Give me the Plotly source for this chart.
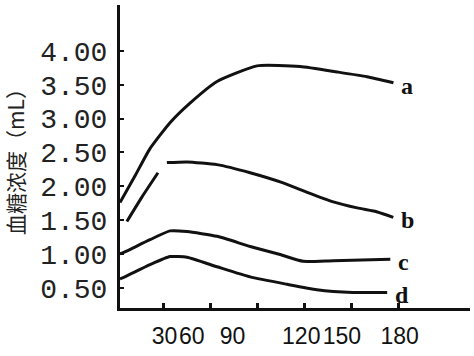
import plotly.graph_objects as go

# ---- data ----
x_a = [2, 12, 21, 34, 46.8, 64.1, 89.7, 117.3, 141, 160, 177]
y_a = [1.76, 2.17, 2.55, 2.94, 3.23, 3.55, 3.78, 3.77, 3.69, 3.62, 3.53]

x_b = [6.4, 16, 26.3, None, 32, 44.9, 64.1, 85.3, 106.4, 121.8, 138.5, 153.8, 166.7, 176.9]
y_b = [1.48, 1.84, 2.20, None, 2.35, 2.36, 2.32, 2.20, 2.05, 1.91, 1.77, 1.68, 1.62, 1.54]

x_c = [2, 5.1, 21.2, 34, 44.9, 64.1, 85.3, 104.5, 119.2, 138.5, 175]
y_c = [1.00, 1.03, 1.21, 1.34, 1.33, 1.26, 1.11, 0.99, 0.89, 0.90, 0.92]

x_d = [2, 5.1, 21.2, 34, 44.9, 64.1, 85.3, 109, 128, 151, 173]
y_d = [0.63, 0.66, 0.84, 0.96, 0.95, 0.81, 0.66, 0.55, 0.47, 0.43, 0.43]

curve_names = ["a", "b", "c", "d"]
x_ticks = [30, 60, 90, 120, 150, 180]
x_tick_text = ["30", "60", "90", "120", "150", "180"]
y_ticks = [0.5, 1.0, 1.5, 2.0, 2.5, 3.0, 3.5, 4.0]
y_tick_text = ["0.50", "1.00", "1.50", "2.00", "2.50", "3.00", "3.50", "4.00"]
y_title = "血糖浓度（mL）"

# ---- style ----
# horizontal shift of x tick labels as printed in the original (labels crowd left)
x_label_shift = [0.5, -12, -16, -2, -6, 1]
label_dx = 6

fig = go.Figure()
series = [(x_a, y_a), (x_b, y_b), (x_c, y_c), (x_d, y_d)]
for (xs, ys), name in zip(series, curve_names):
    fig.add_trace(go.Scatter(
        x=xs, y=ys, mode="lines", name=name,
        line=dict(color="#111111", width=3, shape="spline", smoothing=0.5),
        connectgaps=False, showlegend=False, hoverinfo="skip"))
    last = max(i for i, v in enumerate(xs) if v is not None)
    fig.add_annotation(x=xs[last], y=ys[last], text="<b>%s</b>" % name,
                       showarrow=False, xanchor="left", yanchor="middle",
                       xshift=label_dx, yshift=-3,
                       font=dict(family="Liberation Serif", size=24, color="#111111"))

label_pos = [v + s for v, s in zip(x_ticks, x_label_shift)]

fig.update_layout(
    width=474, height=356,
    margin=dict(l=120, r=4, t=5, b=48),
    paper_bgcolor="white", plot_bgcolor="white",
    xaxis=dict(range=[2, 226], showgrid=False, zeroline=False,
               showline=True, linecolor="#111111", linewidth=3,
               tickmode="array", tickvals=label_pos, ticktext=x_tick_text,
               ticks="", ticklabelstandoff=5, tickangle=0,
               tickfont=dict(family="Liberation Sans", size=23, color="#111111"),
               minor=dict(tickmode="array", tickvals=x_ticks, ticks="inside",
                          ticklen=5, tickwidth=3, tickcolor="#111111", showgrid=False)),
    yaxis=dict(range=[0.2, 4.68], showgrid=False, zeroline=False,
               showline=True, linecolor="#111111", linewidth=3,
               tickmode="array", tickvals=y_ticks, ticktext=y_tick_text,
               ticks="inside", ticklen=4, tickwidth=2, tickcolor="#111111",
               ticklabelstandoff=4,
               tickfont=dict(family="Liberation Mono", size=28, color="#222222"),
               title=dict(text=y_title, standoff=12,
                          font=dict(family="Noto Sans CJK SC", size=21, color="#222222"))),
)

fig.write_html("out.html")
